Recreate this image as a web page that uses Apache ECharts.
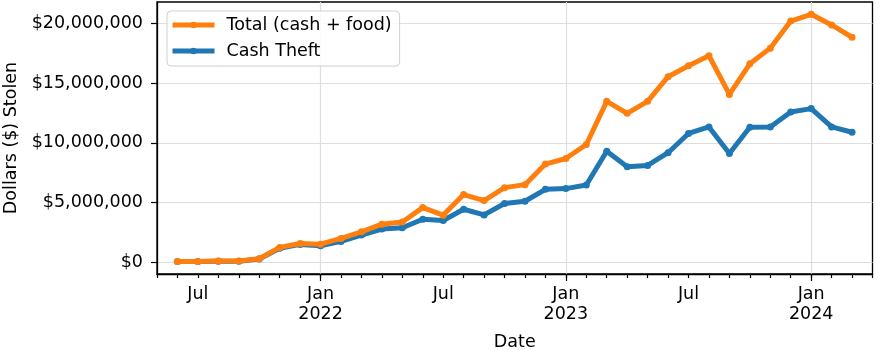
<!DOCTYPE html>
<html>
<head>
<meta charset="utf-8">
<script src="https://cdn.jsdelivr.net/npm/echarts@6/dist/echarts.min.js"></script>
<style>
html,body{margin:0;padding:0;background:#fff;}
#c{width:876px;height:350px;}
</style>
</head>
<body>
<div id="c"></div>
<script>
// Monthly dates (first of month)
const months = [
  '2021-06','2021-07','2021-08','2021-09','2021-10','2021-11','2021-12',
  '2022-01','2022-02','2022-03','2022-04','2022-05','2022-06','2022-07','2022-08','2022-09','2022-10','2022-11','2022-12',
  '2023-01','2023-02','2023-03','2023-04','2023-05','2023-06','2023-07','2023-08','2023-09','2023-10','2023-11','2023-12',
  '2024-01','2024-02','2024-03'
];
// Values in millions of dollars
const totalMillions = [
  0.08, 0.08, 0.11, 0.11, 0.30, 1.25, 1.58,
  1.52, 2.00, 2.55, 3.19, 3.38, 4.58, 3.95, 5.67, 5.17, 6.25, 6.50, 8.22,
  8.69, 9.86, 13.47, 12.47, 13.47, 15.53, 16.44, 17.28, 14.05, 16.61, 17.92, 20.19,
  20.75, 19.86, 18.83
];
const cashMillions = [
  0.07, 0.07, 0.10, 0.10, 0.28, 1.18, 1.50,
  1.39, 1.75, 2.28, 2.78, 2.89, 3.61, 3.50, 4.44, 3.97, 4.92, 5.11, 6.11,
  6.17, 6.47, 9.30, 8.00, 8.11, 9.17, 10.78, 11.33, 9.11, 11.30, 11.33, 12.58,
  12.86, 11.33, 10.88
];
const yTicks = [0, 5000000, 10000000, 15000000, 20000000];
const seriesNames = ['Total (cash + food)', 'Cash Theft'];

// month index: months since Jan 2021 (0 = 2021-01)
function monthIndex(s) {
  const [y, m] = s.split('-').map(Number);
  return (y - 2021) * 12 + (m - 1);
}
const xMin = 4;   // 2021-05
const xMax = 39;  // 2024-04
const labelVals = [];
const janVals = [];
for (let v = xMin; v <= xMax; v++) {
  if (v % 6 === 0) labelVals.push(v);
  if (v % 12 === 0) janVals.push(v);
}
const totalData = months.map((m, i) => [monthIndex(m), totalMillions[i] * 1e6]);
const cashData = months.map((m, i) => [monthIndex(m), cashMillions[i] * 1e6]);

const FONT = 'DejaVu Sans';
const FS = 17.5;
const chart = echarts.init(document.getElementById('c'), null, {renderer: 'canvas'});
chart.setOption({
  animation: false,
  backgroundColor: '#fff',
  textStyle: {fontFamily: FONT},
  grid: {
    left: 157, right: 3.5, top: 2, bottom: 76,
    show: true, borderColor: '#000', borderWidth: 1.3, backgroundColor: 'transparent',
    containLabel: false, outerBoundsMode: 'none'
  },
  legend: {
    orient: 'vertical',
    left: 167, top: 11,
    data: seriesNames,
    itemWidth: 42, itemHeight: 8, itemGap: 6,
    padding: [4, 8, 5, 3],
    backgroundColor: 'rgba(255,255,255,0.85)',
    borderColor: '#d0d0d0', borderWidth: 1, borderRadius: 4,
    lineStyle: {width: 5},
    textStyle: {fontFamily: FONT, fontSize: FS, color: '#000', lineHeight: 20, padding: [0, 0, 0, 7]}
  },
  xAxis: [{
    type: 'value', min: xMin, max: xMax, interval: 1,
    name: 'Date', nameLocation: 'middle', nameGap: 59,
    nameTextStyle: {fontFamily: FONT, fontSize: FS, color: '#000'},
    axisLine: {show: true, onZero: false, lineStyle: {color: '#000', width: 1.3}},
    axisTick: {show: true, length: 4, lineStyle: {color: '#000', width: 1.2}},
    axisLabel: {
      show: true, customValues: labelVals, margin: 10,
      fontFamily: FONT, fontSize: FS, color: '#000', lineHeight: 20,
      formatter: function (v) {
        if (v % 12 === 0) return 'Jan\n' + (2021 + v / 12);
        if (v % 12 === 6) return 'Jul';
        return '';
      }
    },
    splitLine: {show: false}
  }, {
    type: 'value', min: xMin, max: xMax, position: 'bottom',
    axisLine: {show: false, onZero: false},
    axisTick: {show: true, customValues: janVals, length: 7, lineStyle: {color: '#000', width: 1.2}},
    axisLabel: {show: false},
    splitLine: {show: true, lineStyle: {color: '#dedede', width: 1.2}}
  }],
  yAxis: {
    type: 'value', min: -975000, max: 21780000,
    name: 'Dollars ($) Stolen', nameLocation: 'middle', nameGap: 128,
    nameTextStyle: {fontFamily: FONT, fontSize: FS, color: '#000'},
    axisLine: {show: true, onZero: false, lineStyle: {color: '#000', width: 1.3}},
    axisTick: {show: true, customValues: yTicks, length: 6, lineStyle: {color: '#000', width: 1.2}},
    axisLabel: {
      customValues: yTicks, margin: 14,
      fontFamily: FONT, fontSize: FS, color: '#000',
      formatter: function (v) { return '$' + Math.round(v).toLocaleString('en-US'); }
    },
    splitLine: {show: true, lineStyle: {color: '#dedede', width: 1.2}}
  },
  series: [{
    name: seriesNames[0], type: 'line', data: totalData, z: 4,
    symbol: 'circle', symbolSize: 7, showSymbol: true,
    itemStyle: {color: '#ff7f0e'},
    lineStyle: {color: '#ff7f0e', width: 5}
  }, {
    name: seriesNames[1], type: 'line', data: cashData, z: 3,
    symbol: 'circle', symbolSize: 7, showSymbol: true,
    itemStyle: {color: '#1f77b4'},
    lineStyle: {color: '#1f77b4', width: 5}
  }]
});
</script>
</body>
</html>
